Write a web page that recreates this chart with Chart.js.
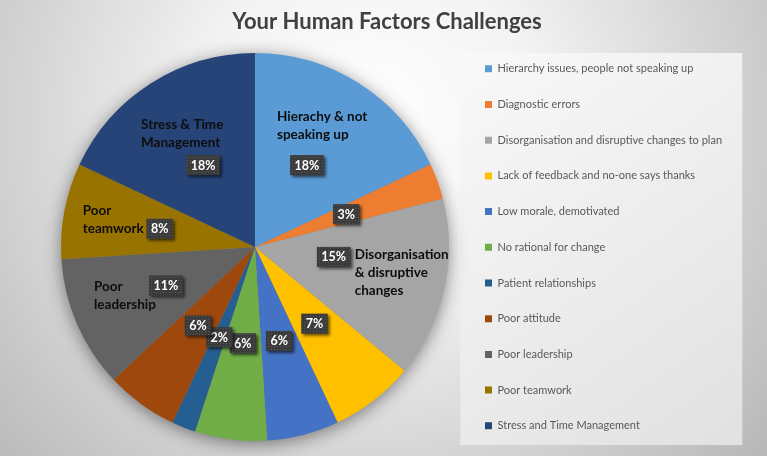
<!DOCTYPE html>
<html>
<head>
<meta charset="utf-8">
<script src="https://cdn.jsdelivr.net/npm/chart.js@4.4.1/dist/chart.umd.min.js"></script>
<style>
  html, body { margin: 0; padding: 0; background: #ffffff; }
  canvas { display: block; }
</style>
</head>
<body>
<canvas id="chart" width="767" height="456"></canvas>
<script>
// chart values
const categories = [
  'Hierarchy issues, people not speaking up',
  'Diagnostic errors',
  'Disorganisation and disruptive changes to plan',
  'Lack of feedback and no-one says thanks',
  'Low morale, demotivated',
  'No rational for change',
  'Patient relationships',
  'Poor attitude',
  'Poor leadership',
  'Poor teamwork',
  'Stress and Time Management'
];
const shares = [18, 3, 15, 7, 6, 6, 2, 6, 11, 8, 18];
const sliceNames = [
  ['Hierachy & not', 'speaking up'], null,
  ['Disorganisation', '& disruptive', 'changes'], null, null, null, null, null,
  ['Poor', 'leadership'], ['Poor', 'teamwork'], ['Stress & Time', 'Management']
];

const colors = ['#5B9BD5', '#ED7D31', '#A5A5A5', '#FFC000', '#4472C4', '#70AD47',
                '#255E91', '#9E480E', '#636363', '#997300', '#264478'];

// label layout: radius fraction, box nudge, offset of the name text from the box
const labelRadius = [0.5, 0.5, 0.4, 0.5, 0.5, 0.5, 0.5, 0.5, 0.5, 0.5, 0.5];
const boxNudge = [[0, 0], [0, 0], [3, -7], [0, 0], [0, 0], [0, 0], [0, 0], [0, 0], [0, 0], [0, 0], [0, 0]];
const nameOffset = [[-30, -48], null, [21, -2], null, null, null, null, null,
                    [-72, 1], [-77, -18], [-62, -40]];

function dotPattern(ctx) {
  const c = document.createElement('canvas');
  c.width = 3; c.height = 3;
  const p = c.getContext('2d');
  p.fillStyle = '#3b3b3b';
  p.fillRect(0, 0, 3, 3);
  p.fillStyle = '#575757';
  p.fillRect(1, 1, 1, 1);
  return ctx.createPattern(c, 'repeat');
}

const backdrop = {
  id: 'backdrop',
  beforeDraw(chart) {
    const {ctx, width, height} = chart;
    ctx.save();
    const g = ctx.createRadialGradient(370, 120, 0, 370, 120, 560);
    g.addColorStop(0, '#ffffff');
    g.addColorStop(0.3, '#f3f3f3');
    g.addColorStop(1, '#b0b0b0');
    ctx.fillStyle = g;
    ctx.fillRect(0, 0, width, height);

    // legend panel
    const px = chart.legend.left, py = chart.chartArea.top;
    const pg = ctx.createLinearGradient(px, py, px + 282, py + 392);
    pg.addColorStop(0, '#f9f9f9');
    pg.addColorStop(1, '#e1e1e1');
    ctx.fillStyle = pg;
    ctx.fillRect(px, py, 282, 392);
    ctx.restore();
  }
};

const pieShadow = {
  id: 'pieShadow',
  beforeDatasetsDraw(chart) {
    const {ctx} = chart;
    const arc = chart.getDatasetMeta(0).data[0];
    const {x, y, outerRadius} = arc.getProps(['x', 'y', 'outerRadius'], true);
    ctx.save();
    ctx.shadowColor = 'rgba(0,0,0,0.5)';
    ctx.shadowBlur = 18;
    ctx.shadowOffsetY = 3;
    ctx.fillStyle = '#7f7f7f';
    ctx.beginPath();
    ctx.arc(x, y, outerRadius - 1, 0, Math.PI * 2);
    ctx.fill();
    ctx.restore();
  }
};

const sliceLabels = {
  id: 'sliceLabels',
  afterDatasetsDraw(chart) {
    const {ctx} = chart;
    const pattern = dotPattern(ctx);
    chart.getDatasetMeta(0).data.forEach((arc, i) => {
      const {x, y, startAngle, endAngle, outerRadius} =
        arc.getProps(['x', 'y', 'startAngle', 'endAngle', 'outerRadius'], true);
      const mid = (startAngle + endAngle) / 2;
      const r = outerRadius * labelRadius[i];
      const bx = x + Math.cos(mid) * r + boxNudge[i][0];
      const by = y + Math.sin(mid) * r + boxNudge[i][1];

      const text = shares[i] + '%';
      ctx.save();
      ctx.font = 'bold 12.5px Lato';
      const w = ctx.measureText(text).width + 9;
      const h = 20;
      ctx.shadowColor = 'rgba(0,0,0,0.6)';
      ctx.shadowBlur = 3;
      ctx.shadowOffsetX = 2;
      ctx.shadowOffsetY = 2;
      ctx.fillStyle = pattern;
      ctx.fillRect(bx - w / 2, by - h / 2, w, h);
      ctx.restore();

      ctx.save();
      ctx.font = 'bold 12.5px Lato';
      ctx.fillStyle = '#ffffff';
      ctx.textAlign = 'center';
      ctx.textBaseline = 'middle';
      ctx.fillText(text, bx, by + 0.5);

      if (sliceNames[i]) {
        ctx.font = 'bold 13.5px Lato';
        ctx.fillStyle = '#0d0d0d';
        ctx.textAlign = 'left';
        sliceNames[i].forEach((line, k) => {
          ctx.fillText(line, bx + nameOffset[i][0], by + nameOffset[i][1] + k * 18);
        });
      }
      ctx.restore();
    });
  }
};

new Chart(document.getElementById('chart'), {
  type: 'pie',
  data: {
    labels: categories,
    datasets: [{
      data: shares,
      backgroundColor: colors,
      borderWidth: 0,
      hoverOffset: 0
    }]
  },
  options: {
    responsive: false,
    animation: false,
    layout: { padding: { left: 49.7, right: 42.7, top: 0, bottom: 0 } },
    plugins: {
      title: {
        display: true,
        text: 'Your Human Factors Challenges',
        color: '#404040',
        font: { family: 'Lato', size: 22, weight: 'bold', lineHeight: 1.2 },
        padding: { top: 8.8, bottom: 17.8 }
      },
      subtitle: {
        display: true,
        text: '',
        position: 'bottom',
        fullSize: false,
        padding: 0,
        font: { size: 10, lineHeight: '15px' }
      },
      legend: {
        position: 'right',
        align: 'end',
        maxWidth: 264,
        labels: {
          boxWidth: 7,
          boxHeight: 7,
          padding: 24.7,
          color: '#595959',
          font: { family: 'Lato', size: 11 }
        }
      },
      tooltip: { enabled: false }
    }
  },
  plugins: [backdrop, pieShadow, sliceLabels]
});
</script>
</body>
</html>
